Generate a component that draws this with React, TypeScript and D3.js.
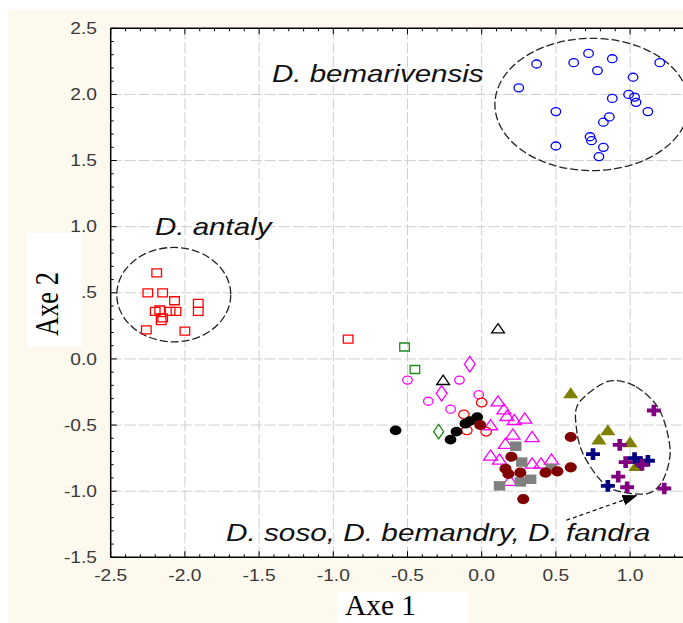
import React from "react";
import * as d3 from "d3";

const W = 683;
const H = 623;

// scores on (Axe 1, Axe 2)
const bemarivensis = [
  [0.37, 2.23], [0.25, 2.05], [0.62, 2.24], [0.72, 2.31], [0.88, 2.27], [0.78, 2.18],
  [1.2, 2.24], [1.02, 2.13], [0.88, 1.97], [0.99, 2.0], [1.03, 1.98], [1.04, 1.94],
  [1.12, 1.87], [0.5, 1.87], [0.86, 1.83], [0.82, 1.79], [0.73, 1.68], [0.74, 1.65],
  [0.5, 1.61], [0.82, 1.6], [0.79, 1.53],
];
const antaly = [
  [-2.19, 0.65], [-2.25, 0.5], [-2.15, 0.5], [-2.07, 0.44], [-1.91, 0.42], [-1.91, 0.36],
  [-2.2, 0.36], [-2.17, 0.37], [-2.1, 0.36], [-2.06, 0.36], [-2.15, 0.31], [-2.16, 0.29],
  [-2.0, 0.21], [-2.26, 0.22], [-0.9, 0.15],
];
const greenSquares = [[-0.52, 0.09], [-0.45, -0.08]];
const greenCircles = [[-0.29, -0.55]];
const blackTriangles = [[0.11, 0.22], [-0.26, -0.17]];
const magentaDiamonds = [[-0.08, -0.04], [-0.27, -0.26]];
const magentaCircles = [
  [-0.5, -0.16], [-0.15, -0.16], [-0.36, -0.32], [-0.21, -0.38], [-0.02, -0.27],
];
const redCircles = [[-0.12, -0.42], [0.0, -0.33], [-0.1, -0.54], [0.03, -0.55]];
const blackFilled = [
  [-0.58, -0.54], [-0.03, -0.44], [-0.08, -0.47], [-0.11, -0.49], [-0.17, -0.55], [-0.21, -0.61],
];
const magentaTriangles = [
  [0.11, -0.33], [0.15, -0.39], [0.17, -0.44], [0.22, -0.47], [0.29, -0.46], [0.06, -0.51],
  [0.21, -0.58], [0.34, -0.6], [0.16, -0.65], [0.06, -0.74], [0.12, -0.77], [0.34, -0.8],
  [0.4, -0.8], [0.47, -0.77], [0.19, -0.93],
];
const greySquares = [
  [0.23, -0.66], [0.27, -0.78], [0.26, -0.93], [0.33, -0.91], [0.12, -0.96], [0.47, -0.83],
];
const maroonFilled = [
  [-0.01, -0.5], [0.2, -0.74], [0.16, -0.83], [0.18, -0.87], [0.26, -0.86], [0.28, -1.06],
  [0.43, -0.86], [0.51, -0.85], [0.6, -0.59], [0.6, -0.82],
];
const oliveTriangles = [[0.6, -0.27], [0.85, -0.55], [0.79, -0.62], [1.0, -0.64], [1.04, -0.82]];
const navyPlus = [[0.75, -0.72], [1.03, -0.75], [1.12, -0.77], [0.85, -0.96], [1.07, -0.78]];
const purplePlus = [
  [1.16, -0.39], [0.93, -0.65], [0.97, -0.78], [0.92, -0.89], [0.98, -0.97], [1.23, -0.98],
  [1.08, -0.8],
];

// dashed group outlines
const ellipses = [
  { cx: 0.743, cy: 1.924, rx: 0.654, ry: 0.5 },
  { cx: -2.075, cy: 0.486, rx: 0.384, ry: 0.357 },
];
const sosoOutline = [
  [0.85, -0.17], [1.04, -0.21], [1.2, -0.39], [1.27, -0.69], [1.22, -0.92], [1.11, -1.02],
  [0.89, -0.99], [0.78, -0.89], [0.68, -0.71], [0.64, -0.54], [0.65, -0.34],
];
const arrowFromTo = [[0.57, -1.22], [1.05, -1.03]];

const xTicks = [-2.5, -2.0, -1.5, -1.0, -0.5, 0.0, 0.5, 1.0];
const yTicks = [-1.5, -1.0, -0.5, 0.0, 0.5, 1.0, 1.5, 2.0, 2.5];

const series = [
  { data: bemarivensis, type: d3.symbolCircle, size: 50, fill: "none", stroke: "#0000ff" },
  { data: antaly, type: d3.symbolSquare, size: 64, fill: "none", stroke: "#ff0000" },
  { data: greenSquares, type: d3.symbolSquare, size: 64, fill: "none", stroke: "#1a8c1a" },
  { data: greenCircles, type: d3.symbolDiamond, size: 60, fill: "none", stroke: "#1a8c1a" },
  { data: blackTriangles, type: d3.symbolTriangle, size: 50, fill: "none", stroke: "#000" },
  { data: magentaDiamonds, type: d3.symbolDiamond, size: 70, fill: "none", stroke: "#ff00ff" },
  { data: magentaCircles, type: d3.symbolCircle, size: 50, fill: "none", stroke: "#ff00ff" },
  { data: redCircles, type: d3.symbolCircle, size: 60, fill: "none", stroke: "#ff0000" },
  { data: magentaTriangles, type: d3.symbolTriangle, size: 60, fill: "none", stroke: "#ff00ff" },
  { data: greySquares, type: d3.symbolSquare, size: 90, fill: "#808080", stroke: "none" },
  { data: blackFilled, type: d3.symbolCircle, size: 75, fill: "#000", stroke: "none" },
  { data: maroonFilled, type: d3.symbolCircle, size: 80, fill: "#800000", stroke: "none" },
  { data: oliveTriangles, type: d3.symbolTriangle, size: 70, fill: "#808000", stroke: "none" },
  { data: navyPlus, type: d3.symbolCross, size: 75, fill: "#000080", stroke: "none" },
  { data: purplePlus, type: d3.symbolCross, size: 75, fill: "#800080", stroke: "none" },
];

const fmt = (v: number) => d3.format(".1f")(v).replace("\u2212", "-");

export default function App() {
  const x = d3.scaleLinear().domain([-2.5, 1.5]).range([110.7, 704.3]);
  const y = d3.scaleLinear().domain([-1.5, 2.5]).range([557.3, 28.3]);
  const [x0, x1] = [x(-2.5), W];
  const [yTop, yBot] = [y(2.5), y(-1.5)];

  const minorX = d3.range(0, 41).map((i) => -2.5 + i * 0.1);
  const minorY = d3.range(0, 41).map((i) => -1.5 + i * 0.1);

  const blob = d3
    .line()
    .x((d) => x(d[0]))
    .y((d) => y(d[1]))
    .curve(d3.curveCardinalClosed.tension(0.1))(sosoOutline as [number, number][]);

  const sans = "'Liberation Sans', Arial, sans-serif";
  const serif = "'Liberation Serif', 'Times New Roman', serif";

  return (
    <div style={{ position: "absolute", left: 0, top: 0 }}>
      <svg width={W} height={H} style={{ display: "block" }}>
        <defs>
          <marker id="head" viewBox="0 0 14 10" refX="14" refY="5" markerWidth="15" markerHeight="11"
            markerUnits="userSpaceOnUse" orient="auto">
            <path d="M0,0 L14,5 L0,10 z" fill="#000" />
          </marker>
          <clipPath id="plot">
            <rect x={x0} y={yTop} width={x1 - x0} height={yBot - yTop} />
          </clipPath>
        </defs>
        <rect width={W} height={H} fill="#fff" />
        <rect x={8} y={10} width={W - 8} height={H - 10} fill="#fdf9ee" />
        <rect x={x0} y={yTop} width={x1 - x0} height={yBot - yTop} fill="#fff" />

        {/* grid */}
        <g stroke="#cfcfcf" strokeWidth={1} strokeDasharray="11,3">
          {xTicks.filter((t) => t > -2.5).map((t) => (
            <line key={"gx" + t} x1={x(t)} x2={x(t)} y1={yTop} y2={yBot} />
          ))}
          {yTicks.filter((t) => t > -1.5 && t < 2.5).map((t) => (
            <line key={"gy" + t} x1={x0} x2={x1} y1={y(t)} y2={y(t)} />
          ))}
        </g>

        <g clipPath="url(#plot)" fill="none" stroke="#222" strokeWidth={1.3} strokeDasharray="8,3">
          {ellipses.map((e, i) => (
            <ellipse key={i} cx={x(e.cx)} cy={y(e.cy)} rx={x(e.cx + e.rx) - x(e.cx)}
              ry={y(e.cy) - y(e.cy + e.ry)} />
          ))}
          <path d={blob || ""} />
        </g>

        {/* points */}
        {series.map((s, si) => (
          <g key={si}>
            {s.data.map((d, i) => (
              <path key={i}
                transform={`translate(${x(d[0])},${y(d[1])}) scale(1.2,1)`}
                d={d3.symbol().type(s.type).size(s.size)() || ""}
                fill={s.fill} stroke={s.stroke} strokeWidth={1.3}
                vectorEffect="non-scaling-stroke" />
            ))}
          </g>
        ))}

        <line x1={x(arrowFromTo[0][0])} y1={y(arrowFromTo[0][1])}
          x2={x(arrowFromTo[1][0])} y2={y(arrowFromTo[1][1])}
          stroke="#000" strokeWidth={1.2} strokeDasharray="4,3" markerEnd="url(#head)" />

        {/* group labels */}
        <g fontFamily={sans} fontStyle="italic" fontSize={24} fill="#111">
          <text transform="translate(272,82) scale(1.23,1)">D. bemarivensis</text>
          <text transform="translate(155,235) scale(1.23,1)">D. antaly</text>
          <text transform="translate(226,541) scale(1.24,1)">D. soso, D. bemandry, D. fandra</text>
        </g>

        {/* frame and ticks */}
        <g stroke="#000" strokeWidth={1.5}>
          <line x1={x0} x2={x1} y1={yTop} y2={yTop} />
          <line x1={x0} x2={x1} y1={yBot} y2={yBot} />
          <line x1={x0} x2={x0} y1={yTop} y2={yBot} />
        </g>
        <g stroke="#000" strokeWidth={1}>
          {minorX.map((t, i) => (
            <g key={"tx" + i}>
              <line x1={x(t)} x2={x(t)} y1={yBot} y2={yBot - (i % 5 === 0 ? 6 : 3)} />
              <line x1={x(t)} x2={x(t)} y1={yTop} y2={yTop + (i % 5 === 0 ? 6 : 3)} />
            </g>
          ))}
          {minorY.map((t, i) => (
            <line key={"ty" + i} x1={x0} x2={x0 + (i % 5 === 0 ? 6 : 3)} y1={y(t)} y2={y(t)} />
          ))}
        </g>
        <g fontFamily={sans} fontSize={16} fill="#3a3a3a">
          {xTicks.map((t) => (
            <text key={"lx" + t} transform={`translate(${x(t)},581) scale(1.2,1)`} textAnchor="middle">
              {fmt(t)}
            </text>
          ))}
          {yTicks.map((t) => (
            <text key={"ly" + t} transform={`translate(97,${y(t)}) scale(1.2,1)`} textAnchor="end" dy="0.35em">
              {fmt(t)}
            </text>
          ))}
        </g>

        {/* axis titles */}
        <rect x={27} y={233} width={55} height={114} fill="#fff" />
        <text transform="translate(58,304) rotate(-90)" textAnchor="middle" fontFamily={serif}
          fontSize={34} textLength={64} lengthAdjust="spacingAndGlyphs" fill="#000">Axe 2</text>
        <rect x={337} y={592} width={131} height={31} fill="#fff" />
        <text x={345} y={615} fontFamily={serif} fontSize={29} textLength={71}
          lengthAdjust="spacingAndGlyphs" fill="#000">Axe 1</text>
      </svg>
    </div>
  );
}
